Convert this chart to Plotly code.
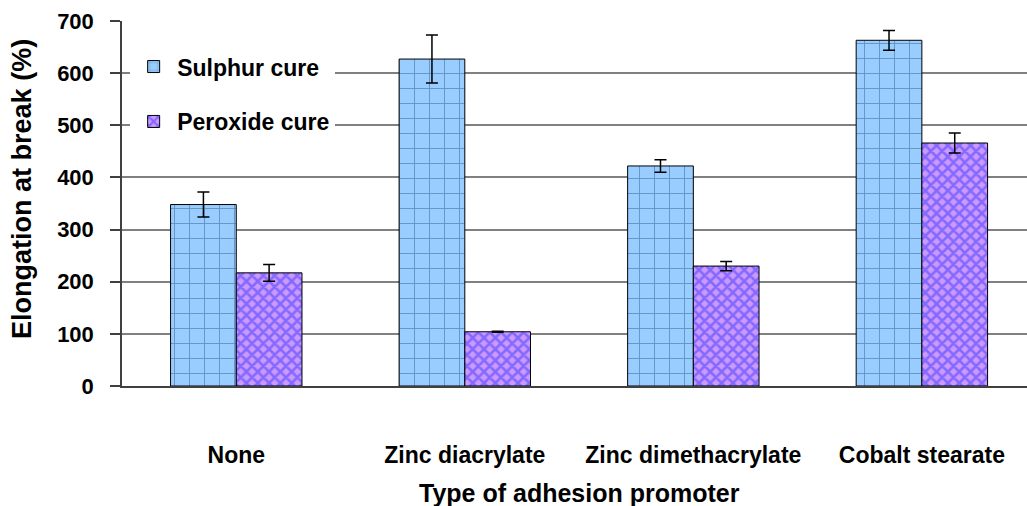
import plotly.graph_objects as go

categories = ["None", "Zinc diacrylate", "Zinc dimethacrylate", "Cobalt stearate"]
sulphur = [348, 627, 422, 663]
sulphur_err = [24, 46, 12, 19]
peroxide = [217, 104, 230, 466]
peroxide_err = [16, 1, 9, 19]
y_ticks = [0, 100, 200, 300, 400, 500, 600, 700]

FONT = "Arial, Liberation Sans, sans-serif"

fig = go.Figure()
fig.add_trace(go.Bar(
    x=categories, y=sulphur, name="Sulphur cure", legendgroup="a",
    marker=dict(color="#99CCFF", line=dict(color="black", width=1),
                pattern=dict(shape="+", fgcolor="#2B5A85", bgcolor="#99CCFF", size=15, solidity=0.12)),
    error_y=dict(type="data", array=sulphur_err, color="black", thickness=1.5, width=6),
))
fig.add_trace(go.Bar(
    x=categories, y=peroxide, name="Peroxide cure", legendgroup="b",
    marker=dict(color="#CC99FF", line=dict(color="black", width=1),
                pattern=dict(shape="x", fgcolor="#3A3AFF", bgcolor="#CC99FF", size=8, solidity=0.55)),
    error_y=dict(type="data", array=peroxide_err, color="black", thickness=1.5, width=6),
))

fig.update_layout(
    width=1027, height=506,
    margin=dict(l=122, r=0, t=21, b=120),
    paper_bgcolor="white", plot_bgcolor="white",
    barmode="group", bargap=0.425, bargroupgap=0,
    font=dict(family=FONT, size=22, color="black"),
    legend=dict(x=0.009, y=0.934, xanchor="left", yanchor="top", bgcolor="white",
                font=dict(size=23, family=FONT, weight="bold"),
                tracegroupgap=22, itemwidth=37),
    showlegend=True,
    annotations=[
        dict(text="Type of adhesion promoter", x=0.506, y=-0.293,
             xref="paper", yref="paper", xanchor="center", yanchor="middle",
             showarrow=False, font=dict(size=25, weight="bold", family=FONT)),
        dict(text="Elongation at break (%)", x=22, y=0.54, textangle=-90,
             xref="paper", yref="paper", xanchor="center", yanchor="middle",
             showarrow=False, font=dict(size=27, weight="bold", family=FONT)),
    ],
)
# y-title annotation x in pixels -> convert to paper coords
fig.layout.annotations[1].x = (22 - 122) / 905

fig.update_xaxes(
    range=[-0.5, 3.46], showline=True, linecolor="#404040", linewidth=1.5,
    ticks="", ticklabelstandoff=48,
    tickfont=dict(size=23, weight="bold"),
)
fig.update_yaxes(
    range=[0, 700], tickvals=y_ticks, showline=True, linecolor="#404040", linewidth=1.5,
    ticks="outside", ticklen=10, tickcolor="#404040", tickwidth=1.5,
    ticklabelstandoff=12,
    showgrid=True, gridcolor="#808080", gridwidth=1.5, zeroline=False,
    tickfont=dict(size=22, weight="bold"),
)
fig.write_html("out.html", config={"displayModeBar": False},
               post_script="document.body.style.margin='0';")
